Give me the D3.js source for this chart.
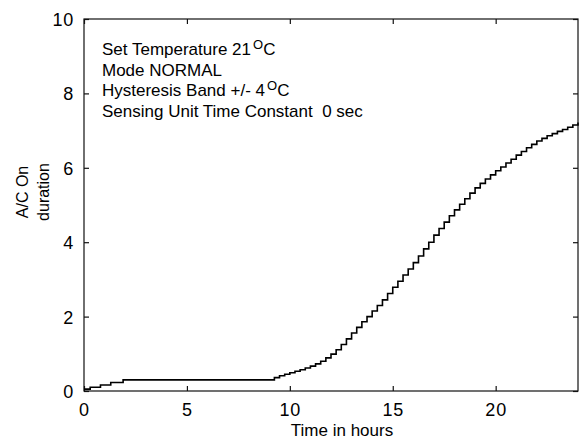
<!DOCTYPE html>
<html>
<head>
<meta charset="utf-8">
<script src="https://cdn.jsdelivr.net/npm/d3@7"></script>
<style>
  html, body { margin: 0; padding: 0; background: #fff; }
  svg { display: block; }
  text { font-family: "Liberation Sans", Arial, sans-serif; fill: #000; white-space: pre; }
</style>
</head>
<body>
<svg id="chart" width="580" height="439"></svg>
<script>
// ---- data ----
const hours = [0, 0.3, 0.8, 1.3, 1.9,
  9.25, 9.5, 9.75, 10, 10.25, 10.5, 10.75, 11, 11.25, 11.5, 11.75,
  12, 12.25, 12.5, 12.75, 13, 13.25, 13.5, 13.75, 14, 14.25, 14.5, 14.75,
  15, 15.25, 15.5, 15.75, 16, 16.25, 16.5, 16.75, 17, 17.25, 17.5, 17.75,
  18, 18.25, 18.5, 18.75, 19, 19.25, 19.5, 19.75, 20, 20.25, 20.5, 20.75,
  21, 21.25, 21.5, 21.75, 22, 22.25, 22.5, 22.75, 23, 23.25, 23.5, 23.75, 24];
const onDuration = [0.05, 0.10, 0.16, 0.23, 0.30,
  0.36, 0.41, 0.45, 0.49, 0.53, 0.57, 0.62, 0.67, 0.73, 0.80, 0.89,
  0.99, 1.11, 1.25, 1.40, 1.56, 1.71, 1.86, 2.00, 2.15, 2.30, 2.45, 2.62,
  2.79, 2.95, 3.12, 3.28, 3.45, 3.63, 3.82, 4.00, 4.19, 4.37, 4.54, 4.71,
  4.87, 5.02, 5.17, 5.32, 5.46, 5.58, 5.70, 5.81, 5.92, 6.02, 6.13, 6.23,
  6.34, 6.44, 6.54, 6.63, 6.72, 6.79, 6.86, 6.92, 6.98, 7.03, 7.09, 7.15, 7.22];
const xTicks = [0, 5, 10, 15, 20];
const yTicks = [0, 2, 4, 6, 8, 10];
const xDomain = [0, 24];
const yDomain = [0, 10];
const annotations = [
  ["Set Temperature 21", "O", "C"],
  ["Mode NORMAL"],
  ["Hysteresis Band +/- 4", "O", "C"],
  ["Sensing Unit Time Constant  0 sec"]
];
const xTitle = "Time in hours";
const yTitleLines = ["A/C On", "duration"];

// ---- layout ----
const svg = d3.select("#chart");
const L = 84, R = 578, T = 19, B = 391;
const x = d3.scaleLinear().domain(xDomain).range([L, R]);
const y = d3.scaleLinear().domain(yDomain).range([B, T]);
const tickLen = 5;
const ink = "#111";

const defs = svg.append("defs");
defs.append("filter").attr("id", "soft")
  .attr("x", "-5%").attr("y", "-5%").attr("width", "110%").attr("height", "110%")
  .append("feGaussianBlur").attr("stdDeviation", 0.55);

// frame
svg.append("rect")
  .attr("x", L).attr("y", T).attr("width", R - L).attr("height", B - T)
  .attr("fill", "none").attr("stroke", ink).attr("stroke-width", 1.2);

// axes (inward ticks)
const xAxisB = d3.axisBottom(x).tickValues(xTicks).tickSizeInner(-tickLen).tickSizeOuter(0).tickPadding(12);
const gxb = svg.append("g").attr("transform", `translate(0,${B})`).call(xAxisB);
const xAxisT = d3.axisTop(x).tickValues(xTicks).tickSizeInner(-tickLen).tickSizeOuter(0).tickFormat("");
const gxt = svg.append("g").attr("transform", `translate(0,${T})`).call(xAxisT);
const yAxisL = d3.axisLeft(y).tickValues(yTicks).tickSizeInner(-tickLen).tickSizeOuter(0).tickPadding(10);
const gyl = svg.append("g").attr("transform", `translate(${L},0)`).call(yAxisL);
const yAxisR = d3.axisRight(y).tickValues(yTicks).tickSizeInner(-tickLen).tickSizeOuter(0).tickFormat("");
const gyr = svg.append("g").attr("transform", `translate(${R},0)`).call(yAxisR);

[gxb, gxt, gyl, gyr].forEach(g => {
  g.select(".domain").remove();
  g.selectAll(".tick line").attr("stroke", ink).attr("stroke-width", 1.2);
  g.selectAll(".tick text")
    .style("font-family", '"Liberation Sans", Arial, sans-serif')
    .style("font-size", "18px").style("letter-spacing", "0.8px").attr("fill", "#000");
});
gyl.selectAll(".tick text").attr("dy", "0.36em");

// curve
const line = d3.line()
  .x((d, i) => x(hours[i]))
  .y(d => y(d))
  .curve(d3.curveStepAfter);
svg.append("path")
  .datum(onDuration)
  .attr("d", line)
  .attr("fill", "none")
  .attr("stroke", "#000")
  .attr("stroke-width", 1.6)
  .attr("filter", "url(#soft)");

// annotations
const ann = svg.append("g");
annotations.forEach((parts, i) => {
  const t = ann.append("text")
    .attr("x", 102).attr("y", 55 + i * 20.6)
    .style("font-size", "17px");
  t.append("tspan").text(parts[0]);
  if (parts.length > 1) {
    t.append("tspan").attr("dx", 2).attr("dy", -6).style("font-size", "13px").text(parts[1]);
    t.append("tspan").attr("dy", 6).text(parts[2]);
  }
});

// axis titles
svg.append("text")
  .attr("x", 342).attr("y", 436)
  .attr("text-anchor", "middle")
  .style("font-size", "17px")
  .text(xTitle);

const yCenter = 192;
yTitleLines.forEach((s, i) => {
  const t = svg.append("text")
    .style("font-size", "16px")
    .attr("text-anchor", "start")
    .text(s);
  const len = t.node().getComputedTextLength();
  t.attr("transform", `translate(${28 + i * 21},${yCenter + len / 2}) rotate(-90)`);
});
</script>
</body>
</html>
